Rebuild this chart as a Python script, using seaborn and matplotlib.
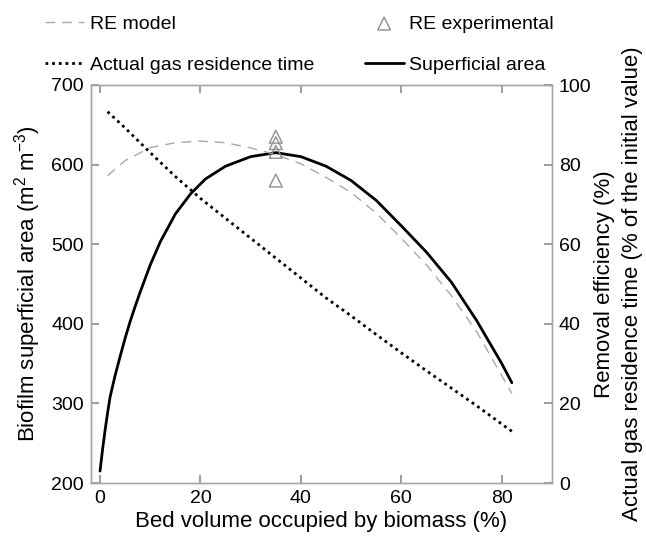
import numpy as np
import pandas as pd
import matplotlib
matplotlib.use("Agg")
import matplotlib.pyplot as plt
import seaborn as sns

# ---------------------------------------------------------------------------
# Data
# ---------------------------------------------------------------------------
# Superficial area (left axis, m2 m-3)
area_x = [0, 0.5, 1, 1.5, 2, 3, 4, 5, 6, 7, 8, 10, 12, 15, 18, 21, 25, 30,
          35, 40, 45, 50, 55, 60, 65, 70, 75, 80, 82]
area_y = [215, 242, 266, 288, 308, 335, 359, 382, 403, 422, 440, 474, 503,
          538, 563, 582, 598, 610, 615, 610, 598, 580, 555, 523, 490, 452,
          404, 350, 326]

# RE model (right axis, %)
re_x = [1.5, 5, 10, 15, 20, 25, 30, 35, 40, 45, 50, 55, 60, 65, 70, 75, 80, 82]
re_y = [77.2, 81, 84.3, 85.5, 85.9, 85.5, 84.2, 82.5, 80.2, 76.8, 73, 67.8,
        61.5, 54.8, 47, 38, 27, 22.5]

# Actual gas residence time (right axis, % of the initial value)
gas_x = [1.5, 5, 10, 15, 20, 25, 30, 35, 40, 45, 50, 55, 60, 65, 70, 75, 80, 82]
gas_y = [93.3, 89.2, 83, 77, 71.5, 66.5, 61.5, 56.5, 51.5, 46.5, 42, 37.3,
         32.7, 28.2, 23.8, 19.4, 14.8, 13]

# RE experimental (right axis, %)
exp_x = [35, 35, 35, 35]
exp_y = [87, 85.4, 83.2, 76]

# ---------------------------------------------------------------------------
# Style
# ---------------------------------------------------------------------------
sns.set_style("white")
plt.rcParams["font.family"] = ["Liberation Sans", "DejaVu Sans"]
plt.rcParams["mathtext.fontset"] = "custom"
plt.rcParams["mathtext.rm"] = "Liberation Sans"
plt.rcParams["mathtext.it"] = "Liberation Sans"
plt.rcParams["text.color"] = "black"
plt.rcParams["axes.labelcolor"] = "black"

spine_grey = "#a6a6a6"
tick_grey = "#8c8c8c"

fig = plt.figure(figsize=(6.46, 5.38), dpi=100)
ax = fig.add_axes([91 / 646, 1 - 483 / 538, (552 - 91) / 646, (483 - 85) / 538])
ax2 = ax.twinx()

# ---------------------------------------------------------------------------
# Curves
# ---------------------------------------------------------------------------
sns.lineplot(x=re_x, y=re_y, ax=ax2, color="#a8a8a8", linewidth=1.0,
             linestyle=(0, (7, 5)), label="RE model")
sns.lineplot(x=gas_x, y=gas_y, ax=ax2, color="black", linewidth=2.0,
             linestyle=(0, (1, 1.4)), label="Actual gas residence time")
sns.scatterplot(x=exp_x, y=exp_y, ax=ax2, marker="^", s=85,
                facecolor="none", edgecolor="#8f8f8f", linewidth=1.0,
                label="RE experimental", zorder=4)
sns.lineplot(x=area_x, y=area_y, ax=ax, color="black", linewidth=2.0,
             label="Superficial area")

# ---------------------------------------------------------------------------
# Axes
# ---------------------------------------------------------------------------
ax.set_xlim(-1.8, 90)
ax.set_ylim(200, 700)
ax2.set_ylim(0, 100)
ax.set_xticks([0, 20, 40, 60, 80])
ax.set_yticks([200, 300, 400, 500, 600, 700])
ax2.set_yticks([0, 20, 40, 60, 80, 100])

for a in (ax, ax2):
    for side in ["top", "right", "bottom", "left"]:
        a.spines[side].set_visible(True)
        a.spines[side].set_color(spine_grey)
        a.spines[side].set_linewidth(1.0)

# inward grey ticks, as in the original
ax.tick_params(axis="x", direction="in", length=6, width=1.2,
               color=tick_grey, labelcolor="black", labelsize=14, pad=5,
               bottom=True, top=True)
ax.tick_params(axis="y", direction="in", length=6, width=1.2,
               color=tick_grey, labelcolor="black", labelsize=14, pad=5,
               left=True, right=False)
ax2.tick_params(axis="y", direction="in", length=6, width=1.2,
                color=tick_grey, labelcolor="black", labelsize=14, pad=5,
                right=True, left=False)

ax.set_xlabel("Bed volume occupied by biomass (%)", fontsize=16, labelpad=3)
ax.set_ylabel("Biofilm superficial area (m$^{2}$ m$^{-3}$)", fontsize=16,
              labelpad=6)
ax2.set_ylabel("Removal efficiency (%)\n"
               "Actual gas residence time (% of the initial value)",
               fontsize=16, labelpad=2, linespacing=1.4)

if ax.get_legend():
    ax.get_legend().remove()
if ax2.get_legend():
    ax2.get_legend().remove()

# ---------------------------------------------------------------------------
# Legend above the axes
# ---------------------------------------------------------------------------
h1, l1 = ax2.get_legend_handles_labels()
h2, l2 = ax.get_legend_handles_labels()
lookup = dict(zip(l1 + l2, h1 + h2))
order = ["RE model", "Actual gas residence time", "RE experimental",
         "Superficial area"]
fig.legend([lookup[k] for k in order], order, ncol=2, loc="upper left",
           bbox_to_anchor=(45 / 646, 1 - 15 / 538), frameon=False,
           fontsize=14, handlelength=2.0, handletextpad=0.3,
           columnspacing=2.6, labelspacing=1.2, borderpad=0,
           borderaxespad=0)

fig.savefig("out.png", dpi=100, facecolor="white")
